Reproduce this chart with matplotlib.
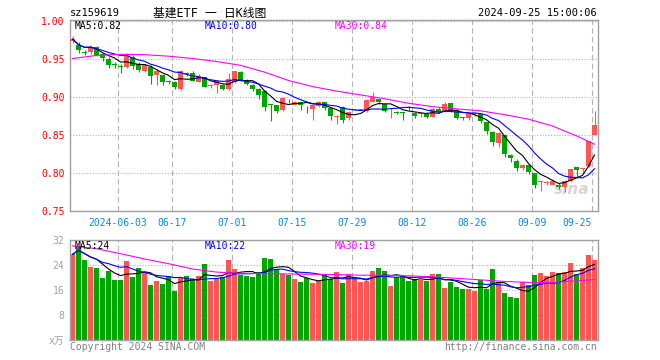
import matplotlib
matplotlib.use('Agg')
import matplotlib.pyplot as plt
import numpy as np
import pandas as pd

plt.rcParams['font.family'] = ['DejaVu Sans Mono', 'Noto Sans CJK SC']

# daily OHLC, 2024-05-22 .. 2024-09-25 (88 trading days)
opens = [0.9735, 0.969, 0.959, 0.959, 0.9665, 0.957, 0.950, 0.9432, 0.9405, 0.940,
         0.9525, 0.9438, 0.9346, 0.9403, 0.929, 0.929, 0.9205, 0.920, 0.9113, 0.931,
         0.9324, 0.920, 0.9263, 0.9143, 0.9166, 0.9166, 0.9113, 0.920, 0.9333, 0.9218,
         0.9158, 0.9113, 0.908, 0.8898, 0.8895, 0.8837, 0.8949, 0.8903, 0.8938, 0.8882,
         0.885, 0.888, 0.8938, 0.886, 0.8735, 0.887, 0.8728, 0.8835, 0.8831, 0.8816,
         0.8938, 0.897, 0.891, 0.8826, 0.8802, 0.8792, 0.8857, 0.879, 0.8774, 0.8776,
         0.8745, 0.8846, 0.881, 0.892, 0.8833, 0.8726, 0.8724, 0.8774, 0.8776, 0.867,
         0.8547, 0.8395, 0.850, 0.8241, 0.8162, 0.8066, 0.811, 0.800, 0.7888, 0.7875,
         0.7846, 0.7846, 0.7815, 0.789, 0.8074, 0.8051, 0.8087, 0.8504]
closes = [0.9765, 0.962, 0.9585, 0.9665, 0.955, 0.951, 0.943, 0.9428, 0.940, 0.956,
          0.941, 0.9363, 0.942, 0.928, 0.934, 0.920, 0.920, 0.9136, 0.934, 0.9305,
          0.9218, 0.9277, 0.9136, 0.9147, 0.921, 0.9113, 0.924, 0.934, 0.9218, 0.9175,
          0.9113, 0.9034, 0.887, 0.8893, 0.8816, 0.899, 0.8945, 0.8938, 0.8903, 0.8878,
          0.8895, 0.8938, 0.886, 0.875, 0.8739, 0.8705, 0.8807, 0.8839, 0.8835, 0.8968,
          0.900, 0.894, 0.8816, 0.8836, 0.8798, 0.8788, 0.8853, 0.8758, 0.8778, 0.8745,
          0.8846, 0.881, 0.8908, 0.8833, 0.873, 0.8722, 0.8776, 0.8778, 0.868, 0.8557,
          0.8408, 0.8534, 0.8249, 0.8197, 0.8066, 0.811, 0.8008, 0.7846, 0.7892, 0.7879,
          0.789, 0.781, 0.7898, 0.8053, 0.8034, 0.8055, 0.8416, 0.8636]
highs = [0.981, 0.9725, 0.962, 0.969, 0.968, 0.958, 0.953, 0.946, 0.944, 0.958,
         0.955, 0.9467, 0.944, 0.942, 0.937, 0.931, 0.9225, 0.921, 0.936, 0.9335,
         0.934, 0.930, 0.927, 0.917, 0.922, 0.918, 0.932, 0.935, 0.934, 0.924,
         0.917, 0.912, 0.909, 0.8905, 0.890, 0.900, 0.897, 0.895, 0.894, 0.889,
         0.890, 0.895, 0.894, 0.886, 0.877, 0.888, 0.882, 0.885, 0.8845, 0.897,
         0.907, 0.898, 0.8925, 0.886, 0.882, 0.881, 0.888, 0.880, 0.879, 0.880,
         0.886, 0.8875, 0.894, 0.892, 0.884, 0.8745, 0.8785, 0.8785, 0.878, 0.867,
         0.855, 0.8547, 0.851, 0.825, 0.818, 0.8115, 0.8125, 0.800, 0.790, 0.790,
         0.792, 0.7875, 0.791, 0.806, 0.8075, 0.807, 0.8416, 0.882]
lows = [0.971, 0.958, 0.956, 0.957, 0.954, 0.948, 0.938, 0.9386, 0.932, 0.9385,
        0.937, 0.9326, 0.933, 0.918, 0.9166, 0.916, 0.917, 0.9105, 0.910, 0.9285,
        0.921, 0.9195, 0.913, 0.912, 0.906, 0.909, 0.910, 0.919, 0.921, 0.9165,
        0.908, 0.898, 0.8824, 0.8684, 0.879, 0.8824, 0.8925, 0.890, 0.8837, 0.879,
        0.8705, 0.8875, 0.8837, 0.8705, 0.864, 0.866, 0.8695, 0.8825, 0.8825, 0.881,
        0.893, 0.8915, 0.8803, 0.8725, 0.878, 0.870, 0.8825, 0.873, 0.8735, 0.8725,
        0.8735, 0.8785, 0.880, 0.881, 0.871, 0.870, 0.8705, 0.875, 0.8655, 0.8513,
        0.8363, 0.834, 0.821, 0.8149, 0.8025, 0.8045, 0.799, 0.7803, 0.7758, 0.7845,
        0.7845, 0.7795, 0.7745, 0.788, 0.7934, 0.802, 0.8075, 0.8504]
# volume in 万手
volumes = [27.5, 30.1, 25.6, 23.4, 23.0, 19.8, 22.2, 19.2, 19.2, 25.3,
           20.2, 23.0, 21.8, 17.6, 18.9, 17.9, 20.5, 15.7, 20.2, 20.5,
           19.5, 20.5, 24.3, 18.9, 19.5, 20.2, 25.6, 22.7, 20.8, 20.5,
           20.2, 21.8, 26.2, 25.9, 22.7, 21.1, 20.8, 19.5, 18.6, 19.8,
           18.2, 18.9, 21.1, 19.5, 21.8, 18.2, 21.1, 19.5, 18.6, 18.9,
           22.1, 23.0, 22.1, 17.3, 20.2, 20.5, 18.9, 19.5, 19.2, 18.9,
           21.1, 21.1, 16.6, 18.6, 17.0, 16.3, 16.3, 15.7, 19.2, 16.3,
           22.7, 18.6, 15.0, 13.8, 13.4, 18.6, 17.6, 20.8, 21.4, 20.5,
           21.8, 21.4, 21.8, 24.6, 21.1, 23.0, 27.2, 25.6]

# MA30 lines (needs history before the window)
ma30_idx = [0, 4, 8, 12, 16, 20, 24, 28, 32, 36, 40, 44, 48, 52, 56, 60, 64, 68,
            72, 76, 80, 84, 87]
ma30_price = [0.951, 0.955, 0.9565, 0.956, 0.954, 0.951, 0.947, 0.942, 0.933, 0.922,
              0.914, 0.908, 0.903, 0.898, 0.892, 0.8875, 0.8846, 0.882, 0.877, 0.871,
              0.862, 0.849, 0.838]
ma30_vol = [30.2, 29.3, 27.7, 26.0, 24.5, 22.8, 21.8, 21.4, 21.3, 21.2, 21.1, 21.0,
            20.8, 20.8, 20.6, 20.3, 19.8, 19.3, 18.8, 18.5, 18.5, 19.0, 19.4]

tick_idx = [8, 17, 27, 37, 47, 57, 67, 77, 87]
tick_labels = ['2024-06-03', '06-17', '07-01', '07-15', '07-29', '08-12',
               '08-26', '09-09', '09-25']

RED = '#ff5555'
GREEN = '#00a600'
FRAME = '#a0a0a0'
GRID = '#b4b4b4'

W, H = 660, 360
fig = plt.figure(figsize=(W / 100, H / 100), dpi=100)


def rect(l, t, r, b):
    return [l / W, 1 - b / H, (r - l) / W, (b - t) / H]


def fy(y):
    return 1 - y / H


o = np.array(opens)
c = np.array(closes)
n = len(c)
x = np.arange(n)
xc = x + 0.42
colors = np.where(c >= o, RED, GREEN)

ma5 = pd.Series(closes).rolling(5, min_periods=1).mean()
ma10 = pd.Series(closes).rolling(10, min_periods=1).mean()
vma5 = pd.Series(volumes).rolling(5, min_periods=1).mean()
vma10 = pd.Series(volumes).rolling(10, min_periods=1).mean()
mx = np.array(ma30_idx) + 0.42

# ===== price panel =====
ax1 = fig.add_axes(rect(70, 20, 598, 211))
ax1.vlines(xc, lows, highs, colors=colors, lw=0.8, zorder=2)
ax1.bar(x, np.maximum(np.abs(c - o), 0.0011), bottom=np.minimum(o, c),
        width=0.83, align='edge', color=colors, lw=0, zorder=3)
ax1.plot(xc, ma5, color='black', lw=0.8, zorder=4)
ax1.plot(xc, ma10, color='#0000ff', lw=0.8, zorder=4)
ax1.plot(mx, ma30_price, color='#ff00ff', lw=0.8, zorder=4)

ax1.set_xlim(0, n)
ax1.set_ylim(0.75, 1.0017)
yt = [0.75, 0.80, 0.85, 0.90, 0.95, 1.00]
ax1.set_yticks(yt, ['%.2f' % v for v in yt])
ax1.tick_params(axis='y', length=0, pad=4, labelsize=7, labelcolor='#ff0000')
ax1.set_xticks(tick_idx, tick_labels)
ax1.tick_params(axis='x', length=0, pad=5, labelsize=7, labelcolor='#0a88d8')
ax1.get_xticklabels()[-1].set_ha('right')
ax1.grid(axis='x', ls=(0, (5, 3)), color=GRID, lw=0.8)
ax1.grid(axis='y', ls=(0, (1, 1.5)), color=GRID, lw=0.8)
ax1.set_axisbelow(True)
for s in ax1.spines.values():
    s.set_color(FRAME)
    s.set_linewidth(1)
# faint sina watermark, bottom-right of the price panel
ax1.text(0.95, 0.11, 'sina', transform=ax1.transAxes, fontsize=11,
         fontstyle='italic', fontweight='bold', color='#dcd4d4',
         ha='center', va='center', family='DejaVu Sans', zorder=1)

# ===== volume panel =====
ax2 = fig.add_axes(rect(70, 240, 598, 340))
ax2.bar(x, volumes, width=0.83, align='edge', color=colors, lw=0, zorder=2)
ax2.plot(xc, vma5, color='black', lw=0.8, zorder=4)
ax2.plot(xc, vma10, color='#0000ff', lw=0.8, zorder=4)
ax2.plot(mx, ma30_vol, color='#ff00ff', lw=0.8, zorder=4)
ax2.set_xlim(0, n)
ax2.set_ylim(0, 32.1)
ax2.set_yticks([0, 8, 16, 24, 32], ['x万', '8', '16', '24', '32'])
ax2.tick_params(axis='y', length=0, pad=4, labelsize=7, labelcolor=FRAME)
ax2.set_xticks(tick_idx)
ax2.tick_params(axis='x', length=0, labelbottom=False)
ax2.grid(axis='x', ls=(0, (5, 3)), color=GRID, lw=0.8)
ax2.grid(axis='y', ls=(0, (1, 1.5)), color=GRID, lw=0.8)
ax2.set_axisbelow(True)
for s in ax2.spines.values():
    s.set_color(FRAME)
    s.set_linewidth(1)

# ===== header / legends / footer =====
fig.text(70 / W, fy(13), 'sz159619', ha='left', va='center', fontsize=7.5)
fig.text(210 / W, fy(13), '基建ETF 一 日K线图', ha='center', va='center', fontsize=8.5)
fig.text(597 / W, fy(13), '2024-09-25 15:00:06', ha='right', va='center', fontsize=7.5)

fig.text(75 / W, fy(26), 'MA5:0.82', ha='left', va='center', fontsize=7, color='black')
fig.text(205 / W, fy(26), 'MA10:0.80', ha='left', va='center', fontsize=7, color='#0000ff')
fig.text(335 / W, fy(26), 'MA30:0.84', ha='left', va='center', fontsize=7, color='#ff00ff')

fig.text(75 / W, fy(246), 'MA5:24', ha='left', va='center', fontsize=7, color='black')
fig.text(205 / W, fy(246), 'MA10:22', ha='left', va='center', fontsize=7, color='#0000ff')
fig.text(335 / W, fy(246), 'MA30:19', ha='left', va='center', fontsize=7, color='#ff00ff')

fig.text(70 / W, fy(347), 'Copyright 2024 SINA.COM', ha='left', va='center',
         fontsize=7, color='#808080')
fig.text(597 / W, fy(347), 'http://finance.sina.com.cn', ha='right', va='center',
         fontsize=7, color='#808080')

fig.savefig('out.png', dpi=100, facecolor='white')
